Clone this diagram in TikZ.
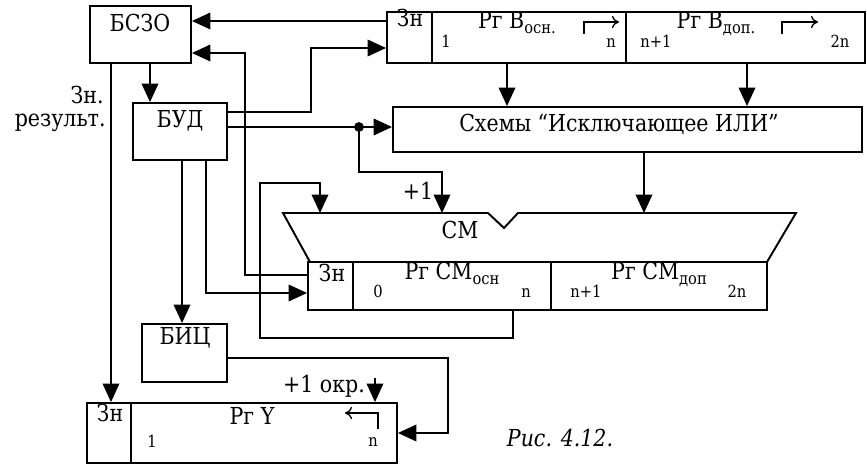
\documentclass[tikz,border=0pt]{standalone}
\usepackage{fontspec}
\setmainfont{DejaVu Serif}[FakeStretch=0.88]
\usepackage{tikz}
\usetikzlibrary{arrows.meta, fit, positioning}
\newcommand{\osnfont}{\fontsize{13.3}{16}\selectfont}
\newcommand{\razrfont}{\fontsize{9.5}{11}\selectfont}
\newcommand{\indeks}[1]{\raisebox{-0.35ex}{\fontsize{9.5}{11}\selectfont #1}}
\tikzset{
  blok/.style={draw, line width=1.1pt, inner sep=0pt},
  svyaz/.style={line width=0.8pt},
  strelka/.style={svyaz, -{Triangle[length=10.5pt, width=9.5pt]}},
  sdvig/.style={line width=0.75pt, -{To[length=4pt, width=7pt]}},
  nadp/.style={anchor=base, inner sep=0pt, font=\osnfont},
  razr/.style={anchor=base, inner sep=0pt, font=\razrfont}
}

\begin{document}
\begin{tikzpicture}[x=0.02cm, y=-0.02cm]
    \useasboundingbox (0,0) rectangle (867,465);

    % Control blocks
    \node[blok, fit={(90,6) (191,63)}] (bszo) {};
    \node[nadp] (bszotxt) at (140,32) {БСЗО};
    \node[blok, fit={(133,103) (227,160)}] (bud) {};
    \node[nadp] (budtxt) at (180,128) {БУД};
    \node[blok, fit={(142,324) (227,382)}] (bic) {};
    \node[nadp] (bictxt) at (185,345) {БИЦ};
    \node[nadp, anchor=base east] (znres1) at (104,104) {Зн.};
    \node[nadp, anchor=base east] (znres2) at (106,127) {результ.};

    % Register B
    \node[blok, fit={(387,12) (432,63)}] (rgBzn) {};
    \node[blok, fit={(432,12) (626,63)}] (rgBosn) {};
    \node[blok, fit={(626,12) (865,63)}] (rgBdop) {};
    \node[nadp] (rgBzntxt) at (410,27) {Зн};
    \node[nadp] (rgBosntxt) at (517,29) {Рг В\indeks{осн.}};
    \node[nadp] (rgBdoptxt) at (716,29) {Рг В\indeks{доп.}};
    \node[razr] (rgB1) at (446,48) {1};
    \node[razr] (rgBn) at (611,48) {n};
    \node[razr] (rgBn1) at (656,48) {n+1};
    \node[razr] (rgB2n) at (840,48) {2n};
    \draw[sdvig] (584,34) |- (619,22);
    \draw[sdvig] (782,34) |- (818,22);

    % XOR circuits
    \node[blok, fit={(393,107) (862,152)}] (sxemy) {};
    \node[nadp] (sxemytxt) at (619,132) {Схемы “Исключающее ИЛИ”};

    % Adder
    \draw[blok] (283,213) -- (488,213) -- (504,228) -- (518,213) -- (796,213)
        -- (767,262) -- (310,262) -- cycle;
    \coordinate (smT) at (0,213);
    \node[nadp] (sm) at (460,239) {СМ};
    \node[nadp] (plus1) at (418,200) {+1};

    % Register CM
    \node[blok, fit={(308,262) (353,310)}] (rgSMzn) {};
    \node[blok, fit={(353,262) (551,310)}] (rgSMosn) {};
    \node[blok, fit={(551,262) (767,310)}] (rgSMdop) {};
    \node[nadp] (rgSMzntxt) at (332,282) {Зн};
    \node[nadp] (rgSMosntxt) at (452,280) {Рг СМ\indeks{осн}};
    \node[nadp] (rgSMdoptxt) at (659,280) {Рг СМ\indeks{доп}};
    \node[razr] (rgSM0) at (378,298) {0};
    \node[razr] (rgSMn) at (526,298) {n};
    \node[razr] (rgSMn1) at (586,298) {n+1};
    \node[razr] (rgSM2n) at (737,298) {2n};

    % Register Y
    \node[blok, fit={(87,403) (131,463)}] (rgYzn) {};
    \node[blok, fit={(131,403) (397,463)}] (rgYosn) {};
    \node[nadp] (rgYzntxt) at (110,422) {Зн};
    \node[nadp] (rgYtxt) at (252,425) {Рг Y};
    \node[razr] (rgY1) at (152,448) {1};
    \node[razr] (rgYn) at (373,447) {n};
    \draw[sdvig] (378,429) |- (345,413);
    \node[nadp] (okrtxt) at (324,393) {+1 окр.};
    \coordinate (okr) at (375,378);

    % Caption
    \node[nadp, font=\osnfont\itshape] (ris) at (560,447) {Рис. 4.12.};

    % Connections of БСЗО
    \draw[strelka] (rgBzn.west |- 0,21) -- (bszo.east |- 0,21);
    \draw[strelka] (rgSMzn.west |- 0,275) -| (245,53) -- (bszo.east |- 0,53);
    \draw[strelka] (bszo.south -| 150,0) -- (bud.north -| 150,0);
    \draw[strelka] (bszo.south -| 111,0) -- (rgYzn.north -| 111,0);

    % Outputs of БУД
    \draw[strelka] (bud.east |- 0,112) -- (311,112) |- (rgBzn.west |- 0,48);
    \coordinate (tochka) at (359,127);
    \draw[svyaz] (bud.east |- tochka) -- (tochka);
    \draw[strelka] (tochka) -- (sxemy.west |- tochka);
    \fill (tochka) circle (2.8pt);
    \draw[strelka] (tochka) |- (442,172) -- (smT -| 442,0);
    \draw[strelka] (bud.south -| 182,0) -- (bic.north -| 182,0);
    \draw[strelka] (bud.south -| 206,0) |- (rgSMzn.west |- 0,293);

    % Data paths
    \draw[strelka] (rgBosn.south -| 507,0) -- (sxemy.north -| 507,0);
    \draw[strelka] (rgBdop.south -| 747,0) -- (sxemy.north -| 747,0);
    \draw[strelka] (sxemy.south -| 644,0) -- (smT -| 644,0);
    \draw[strelka] (rgSMosn.south -| 513,0) |- (260,338) |- (320,183) -- (smT -| 320,0);

    % Outputs of БИЦ
    \draw[strelka] (bic.east |- 0,358) -| (448,433) -- (rgYosn.east |- 0,433);
    \draw[strelka] (okr) -- (rgYosn.north -| okr);
\end{tikzpicture}
\end{document}
